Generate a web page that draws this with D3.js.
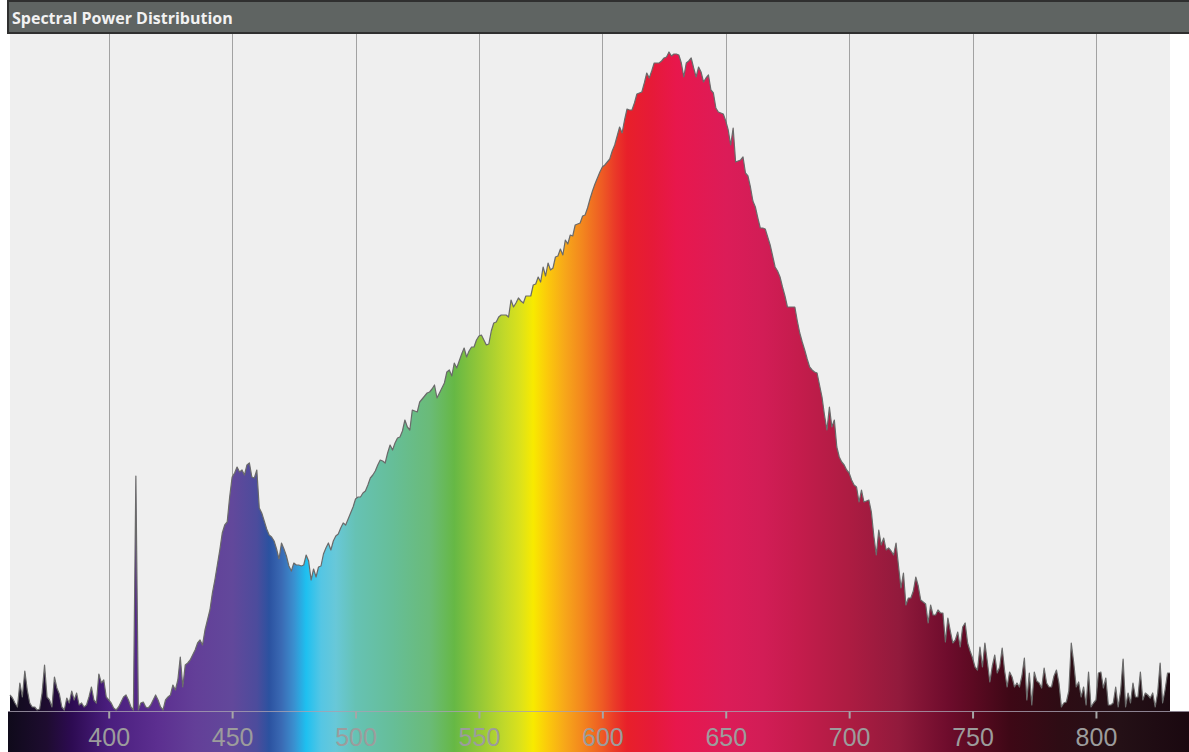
<!DOCTYPE html>
<html>
<head>
<meta charset="utf-8">
<script src="https://cdn.jsdelivr.net/npm/d3@7"></script>
<style>
    body { margin: 0; background: #ffffff; }
    svg { display: block; }
</style>
</head>
<body>
<script>
// chart title
const title = "Spectral Power Distribution";

// measured power, one sample per nm starting at 360 nm (arbitrary units)
const firstNm = 360;
const power = [
    16, 13, 8, 4, 28, 14, 40, 21, 8, 4,              // 360
    4, 1, 2, 18, 46, 14, 11, 4, 34, 23,              // 370
    17, 4, 1, 13, 8, 20, 11, 18, 6, 8,               // 380
    4, 6, 14, 24, 11, 8, 37, 28, 31, 14,             // 390
    11, 8, 3, 1, 4, 9, 14, 16, 11, 4,                // 400
    1, 235, 1, 8, 9, 4, 3, 6, 11, 16,                // 410
    11, 4, 1, 11, 14, 16, 26, 21, 31, 54,            // 420
    24, 46, 48, 51, 56, 61, 68, 71, 66, 81,          // 430
    91, 101, 118, 131, 146, 161, 178, 186, 189, 214, // 440
    234, 238, 244, 239, 241, 236, 246, 248, 234, 233,// 450
    241, 203, 198, 190, 182, 176, 174, 170, 162, 152,// 460
    168, 162, 155, 145, 140, 148, 146, 146, 145, 146,// 470
    156, 150, 131, 142, 134, 144, 145, 157, 163, 168,// 480
    161, 170, 175, 177, 183, 188, 186, 192, 198, 204,// 490
    212, 214, 214, 218, 220, 226, 233, 236, 240, 246,// 500
    251, 250, 248, 258, 266, 261, 268, 273, 274, 280,// 510
    291, 284, 281, 301, 300, 299, 309, 312, 315, 318,// 520
    319, 322, 326, 313, 318, 323, 328, 339, 341, 335,// 530
    348, 343, 350, 357, 363, 354, 360, 364, 364, 371,// 540
    375, 376, 371, 366, 367, 380, 388, 389, 394, 396,// 550
    396, 396, 394, 411, 404, 408, 413, 410, 408, 415,// 560
    415, 415, 426, 427, 434, 429, 444, 435, 448, 441,// 570
    443, 454, 455, 462, 456, 471, 467, 476, 475, 486,// 580
    487, 488, 495, 496, 503, 512, 520, 527, 533, 539,// 590
    544, 546, 549, 552, 560, 566, 575, 584, 578, 591,// 600
    602, 601, 601, 608, 617, 618, 619, 628, 638, 633,// 610
    640, 648, 648, 648, 650, 653, 654, 659, 655, 657,// 620
    657, 656, 648, 634, 648, 650, 653, 643, 634, 644,// 630
    639, 629, 633, 636, 621, 618, 603, 599, 598, 597,// 640
    590, 581, 566, 583, 549, 550, 551, 554, 538, 535,// 650
    524, 510, 504, 493, 483, 483, 482, 474, 466, 455,// 660
    444, 440, 434, 424, 415, 404, 404, 404, 404, 390,// 670
    378, 369, 361, 352, 344, 341, 339, 338, 326, 314,// 680
    296, 281, 304, 284, 291, 264, 254, 249, 246, 241,// 690
    238, 231, 226, 224, 209, 221, 209, 210, 211, 199,// 700
    175, 156, 181, 166, 173, 161, 163, 160, 156, 168,// 710
    145, 123, 138, 106, 113, 113, 120, 134, 125, 111,// 720
    109, 107, 88, 106, 96, 96, 101, 98, 98, 69,      // 730
    93, 80, 68, 71, 79, 64, 84, 88, 68, 60,          // 740
    53, 44, 41, 64, 44, 68, 49, 29, 45, 56,          // 750
    38, 44, 63, 40, 24, 39, 34, 24, 28, 24,          // 760
    35, 53, 11, 38, 6, 39, 30, 28, 23, 43,           // 770
    28, 24, 24, 35, 41, 28, 4, 8, 9, 20,             // 780
    68, 48, 24, 29, 14, 24, 6, 39, 4, 8,             // 790
    11, 38, 39, 23, 33, 6, 6, 8, 24, 4,              // 800
    20, 52, 4, 18, 8, 28, 14, 14, 39, 11,            // 810
    18, 16, 13, 18, 4, 18, 48, 8, 21, 38,            // 820
    38                                               // 830
];

// x axis ticks (nm)
const tickValues = [400, 450, 500, 550, 600, 650, 700, 750, 800];

// visible spectrum colours
const stopNm = [355, 375, 385, 400, 420, 435, 450, 460, 465, 470, 475, 480, 486, 492, 500, 515, 530, 540,
    548, 560, 567, 572, 578, 585, 592, 600, 605, 610, 620, 630, 650, 665, 680, 700, 720, 740, 750, 765,
    785, 810, 840];
const stopColors = ["#0c0a16", "#1e0c30", "#2d0b52", "#4a1e7e", "#5c2f90", "#633f98", "#62489b",
    "#4c4c9c", "#2b52a0", "#3a6ab4", "#3a8fcf", "#1ec0f0", "#55c6e4", "#68c8d8", "#66c2b4", "#66be98",
    "#6abb78", "#66b845", "#8ac43a", "#c0d82a", "#dde21a", "#f8ea00", "#fbc80c", "#f7a61a", "#f3861e",
    "#ee5a24", "#ea3a28", "#e8202a", "#e61a38", "#e8174c", "#dc1c58", "#d21d56", "#c41c4c", "#ad1c42",
    "#921a3c", "#6e0c2c", "#5c0a22", "#3e0816", "#2e0c14", "#241016", "#1a0810"];

const width = 1189;
const height = 752;
const plotLeft = 10;
const plotRight = 1170;
const plotTop = 34;
const plotBottom = 711;

const svg = d3.select("body").append("svg")
    .attr("width", width)
    .attr("height", height);

const data = power.map((p, i) => ({ nm: firstNm + i, p: p }));

const xScale = d3.scaleLinear()
    .domain([firstNm, firstNm + power.length - 1])
    .range([plotLeft, plotRight]);

const yScale = d3.scaleLinear()
    .domain([0, 677])
    .range([plotBottom, plotTop]);

// spectrum gradient, shared by the area and the axis band
const grad = svg.append("defs").append("linearGradient")
    .attr("id", "spectrum")
    .attr("gradientUnits", "userSpaceOnUse")
    .attr("x1", 0).attr("x2", width)
    .attr("y1", 0).attr("y2", 0);
grad.selectAll("stop")
    .data(stopNm)
    .enter().append("stop")
    .attr("offset", d => xScale(d) / width)
    .attr("stop-color", (d, i) => stopColors[i]);

// plot background
svg.append("rect")
    .attr("x", plotLeft)
    .attr("y", plotTop)
    .attr("width", plotRight - plotLeft)
    .attr("height", plotBottom - plotTop)
    .attr("fill", "#efefef");

// vertical grid
svg.append("g")
    .selectAll("line")
    .data(tickValues)
    .enter().append("line")
    .attr("x1", d => Math.round(xScale(d)) + 0.5)
    .attr("x2", d => Math.round(xScale(d)) + 0.5)
    .attr("y1", plotTop)
    .attr("y2", plotBottom)
    .attr("stroke", "#a2a2a2")
    .attr("stroke-width", 1);

// spectrum area
const area = d3.area()
    .x(d => xScale(d.nm))
    .y0(yScale(0))
    .y1(d => yScale(d.p));

const line = d3.line()
    .x(d => xScale(d.nm))
    .y(d => yScale(d.p));

svg.append("path")
    .datum(data)
    .attr("d", area)
    .attr("fill", "url(#spectrum)");

svg.append("path")
    .datum(data)
    .attr("d", line)
    .attr("fill", "none")
    .attr("stroke", "#6a6a6a")
    .attr("stroke-width", 1.2)
    .attr("stroke-linejoin", "round");

// axis band
svg.append("rect")
    .attr("x", 8)
    .attr("y", plotBottom)
    .attr("width", width - 8)
    .attr("height", height - plotBottom)
    .attr("fill", "url(#spectrum)");

const xAxis = svg.append("g")
    .attr("transform", "translate(0," + (plotBottom + 0.5) + ")")
    .call(d3.axisBottom(xScale).tickValues(tickValues).tickSize(7).tickSizeOuter(0));
xAxis.select(".domain")
    .attr("d", "M8,0H" + width)
    .attr("stroke", "#a8a0b0")
    .attr("stroke-opacity", 0.8);
xAxis.selectAll(".tick line")
    .attr("stroke", "#a6a6a6")
    .attr("stroke-width", 2);
xAxis.selectAll(".tick text")
    .attr("y", 34)
    .attr("dy", 0)
    .attr("fill", "#9c9c9c")
    .style("font-family", "'Liberation Sans', Arial, sans-serif")
    .style("font-size", "25px");

// title bar
svg.append("rect")
    .attr("x", 8)
    .attr("y", 1)
    .attr("width", width)
    .attr("height", 32)
    .attr("fill", "#5f6462")
    .attr("stroke", "#2f2f2f")
    .attr("stroke-width", 2);

svg.append("text")
    .attr("x", 12)
    .attr("y", 24)
    .attr("fill", "#f2f2f2")
    .style("font-family", "'Open Sans', sans-serif")
    .style("font-weight", "700")
    .style("font-size", "16px")
    .text(title);
</script>
</body>
</html>
